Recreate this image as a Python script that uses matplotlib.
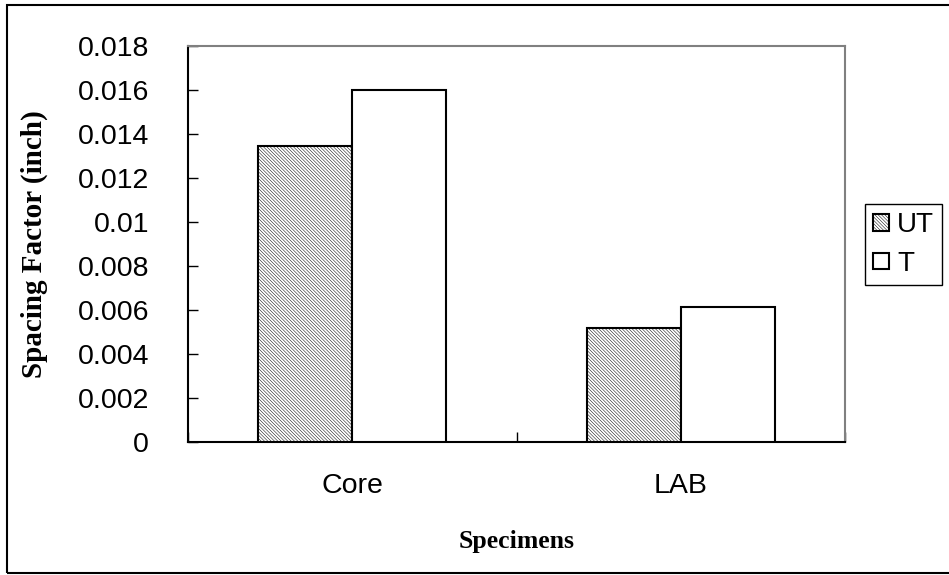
import numpy as np
import matplotlib
matplotlib.use('Agg')
import matplotlib.pyplot as plt
from matplotlib.patches import Rectangle

plt.rcParams['hatch.linewidth'] = 0.35

# Spacing factor by specimen, untreated (UT) vs treated (T)
specimens = ['Core', 'LAB']
ut_values = [0.01345, 0.00518]
t_values = [0.0160, 0.00614]
y_ticks = [0, 0.002, 0.004, 0.006, 0.008, 0.01, 0.012, 0.014, 0.016, 0.018]
y_tick_labels = ['0', '0.002', '0.004', '0.006', '0.008', '0.01', '0.012', '0.014', '0.016', '0.018']

W, H = 949, 575
fig = plt.figure(figsize=(W / 100, H / 100), dpi=100)
ax = fig.add_axes([188 / W, 1 - 442 / H, (845 - 188) / W, (442 - 46) / H])

x = np.arange(len(specimens))
bar_w = 0.286
ax.bar(x - bar_w / 2, ut_values, bar_w, facecolor='white', edgecolor='black',
       hatch='\\\\\\\\\\\\\\\\\\\\', linewidth=1.5, label='UT', zorder=3)
ax.bar(x + bar_w / 2, t_values, bar_w, facecolor='white', edgecolor='black',
       linewidth=1.5, label='T', zorder=3)

ax.set_xlim(-0.5, 1.5)
ax.set_ylim(0, 0.018)
ax.set_yticks(y_ticks)
ax.set_yticklabels(y_tick_labels, fontsize=20.5, family='Liberation Sans')
ax.set_xticks(x)
ax.set_xticklabels(specimens, fontsize=20.5, family='Liberation Sans')
ax.set_xticks([-0.5, 0.5, 1.5], minor=True)

ax.tick_params(axis='y', direction='in', length=7, width=1, pad=28)
ax.tick_params(axis='x', which='major', length=0, pad=22)
ax.tick_params(axis='x', which='minor', direction='in', length=7, width=1)

for side in ['top', 'right']:
    ax.spines[side].set_color('#808080')
    ax.spines[side].set_linewidth(1.5)
for side in ['left', 'bottom']:
    ax.spines[side].set_color('black')
    ax.spines[side].set_linewidth(1.5)

ax.set_ylabel('Spacing Factor (inch)', fontsize=21, fontweight='bold', family='Liberation Serif')
ax.yaxis.set_label_coords(-0.213, 0.5)
ax.set_xlabel('Specimens', fontsize=18.5, fontweight='bold', family='Liberation Serif')
ax.xaxis.set_label_coords(0.5, -0.222)

leg = fig.legend(loc='upper left', bbox_to_anchor=(865 / W, 1 - 204 / H),
                 frameon=True, fancybox=False, edgecolor='black', framealpha=1,
                 prop={'family': 'Liberation Sans', 'size': 20},
                 handlelength=0.55, handleheight=0.55, handletextpad=0.3,
                 labelspacing=0.45, borderpad=0.3, borderaxespad=0)
leg.get_frame().set_linewidth(1.0)

# chart border
fig.patches.append(Rectangle((7 / W, 1 - 573 / H), 1.0, (573 - 4.5) / H,
                             transform=fig.transFigure, fill=False,
                             edgecolor='black', linewidth=1.5, clip_on=False))

fig.savefig('out.png', dpi=100)
